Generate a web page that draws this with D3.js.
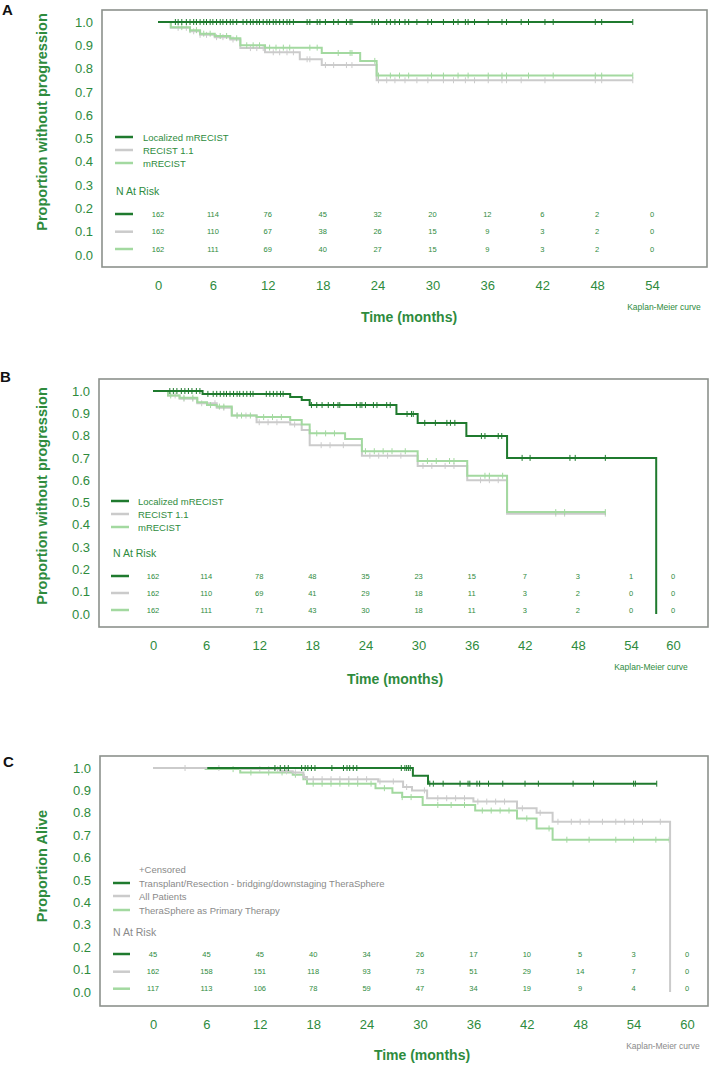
<!DOCTYPE html>
<html lang="en">
<head>
<meta charset="UTF-8">
<title>Kaplan-Meier curves</title>
<script src="https://d3js.org/d3.v7.min.js"></script>
<style>
  body { margin: 0; background: #fff; }
  svg { display: block; font-family: "Liberation Sans", Arial, sans-serif; }
</style>
</head>
<body>
<div class="main"></div>
<script>

  // ---- data ----
  const seriesNamesAB = ["Localized mRECIST", "RECIST 1.1", "mRECIST"];
  const seriesNamesC = ["Transplant/Resection - bridging/downstaging TheraSphere", "All Patients", "TheraSphere as Primary Therapy"];

  const ticksA = [0, 6, 12, 18, 24, 30, 36, 42, 48, 54];
  const ticksBC = [0, 6, 12, 18, 24, 30, 36, 42, 48, 54, 60];
  const yTicks = [0, 0.1, 0.2, 0.3, 0.4, 0.5, 0.6, 0.7, 0.8, 0.9, 1.0];

  // panel A
  const aLocT = [0, 51.9];
  const aLocS = [1.0, 1.0];
  const aRecT = [0, 1.4, 3.5, 4.6, 6.2, 7.9, 9.0, 11.7, 15.5, 17.9, 23.9, 51.9];
  const aRecS = [1.0, 0.975, 0.96, 0.945, 0.935, 0.925, 0.888, 0.87, 0.84, 0.815, 0.75, 0.75];
  const aMreT = [0, 1.4, 3.5, 4.6, 6.2, 7.9, 9.0, 11.7, 17.9, 22.1, 23.9, 51.9];
  const aMreS = [1.0, 0.978, 0.965, 0.95, 0.94, 0.93, 0.90, 0.89, 0.867, 0.833, 0.77, 0.77];
  const aLocCens = [1.9, 2.2, 2.6, 3.1, 3.5, 3.9, 4.2, 4.6, 5.0, 5.3, 5.7, 6.0, 6.4, 6.8, 7.1, 7.5, 7.9, 8.2, 8.6, 9.3, 9.7, 10.1, 10.4, 10.8, 11.1, 11.5, 11.9, 12.2, 12.6, 12.9, 13.3, 13.7, 14.1, 14.4, 14.8, 16.3, 16.6, 17.4, 17.7, 18.3, 19.2, 19.7, 20.6, 21.0, 21.2, 23.4, 23.7, 24.1, 25.0, 25.4, 25.9, 26.4, 27.0, 27.4, 28.3, 29.5, 29.9, 31.2, 32.3, 32.8, 33.6, 33.9, 34.6, 36.1, 37.6, 38.1, 39.7, 40.5, 42.3, 43.2, 47.8, 48.5, 51.9];
  const aRecCens = [2.2, 3.1, 3.9, 4.6, 5.3, 6.4, 7.1, 8.2, 10.1, 10.8, 11.5, 12.6, 13.3, 14.1, 14.8, 16.3, 16.6, 18.3, 19.2, 20.6, 21.2, 24.1, 25.0, 25.9, 27.0, 28.3, 29.5, 31.2, 32.3, 33.6, 34.6, 36.1, 37.6, 38.1, 39.7, 42.3, 47.8, 48.5, 51.9];
  const aMreCens = [2.6, 3.5, 4.2, 5.0, 5.7, 6.8, 7.5, 8.6, 9.7, 10.4, 11.1, 12.2, 12.9, 13.7, 14.4, 16.6, 17.4, 19.7, 21.0, 21.2, 23.7, 24.1, 25.4, 26.4, 27.4, 29.9, 31.2, 32.8, 33.9, 36.1, 37.6, 38.1, 40.5, 43.2, 47.8, 48.5, 51.9];
  const aRiskLoc = [162, 114, 76, 45, 32, 20, 12, 6, 2, 0];
  const aRiskRec = [162, 110, 67, 38, 26, 15, 9, 3, 2, 0];
  const aRiskMre = [162, 111, 69, 40, 27, 15, 9, 3, 2, 0];

  // panel B
  const bLocT = [0, 5.6, 15.5, 16.8, 17.7, 27.5, 29.9, 35.4, 40.0, 57.6];
  const bLocS = [1.0, 0.987, 0.973, 0.96, 0.937, 0.897, 0.857, 0.798, 0.70, 0];
  const bRecT = [0, 1.7, 3.0, 5.0, 7.2, 8.9, 11.7, 15.5, 16.8, 17.7, 23.6, 29.9, 35.5, 40.0, 51.1];
  const bRecS = [1.0, 0.98, 0.965, 0.945, 0.925, 0.89, 0.86, 0.85, 0.825, 0.757, 0.71, 0.664, 0.60, 0.45, 0.45];
  const bMreT = [0, 1.7, 3.0, 5.0, 6.1, 7.2, 8.9, 11.7, 15.5, 16.8, 17.7, 21.7, 23.6, 29.9, 35.5, 40.0, 51.1];
  const bMreS = [1.0, 0.98, 0.97, 0.95, 0.937, 0.93, 0.89, 0.883, 0.87, 0.85, 0.81, 0.785, 0.73, 0.686, 0.62, 0.457, 0.457];
  const bLocCens = [1.9, 2.3, 2.7, 3.2, 3.6, 4.0, 4.4, 4.9, 5.3, 6.2, 6.8, 7.2, 7.6, 8.0, 8.3, 8.7, 9.1, 9.5, 9.8, 10.2, 10.6, 11.0, 11.3, 12.8, 13.2, 13.6, 14.0, 14.4, 14.7, 17.9, 18.5, 19.1, 19.8, 20.4, 20.9, 21.1, 23.0, 23.4, 23.6, 24.0, 24.9, 25.3, 26.4, 26.8, 28.7, 29.2, 29.4, 30.7, 31.9, 33.2, 33.6, 34.1, 37.1, 37.5, 39.0, 39.4, 41.7, 42.6, 47.1, 47.7, 51.1];
  const bRecCens = [2.5, 3.5, 4.5, 5.5, 7.0, 8.0, 9.5, 10.5, 12.0, 13.0, 14.0, 16.0, 19.0, 20.0, 21.5, 24.5, 25.5, 26.5, 28.0, 30.5, 31.5, 33.0, 34.0, 37.0, 38.0, 39.0, 45.5, 46.5, 51.1];
  const bMreCens = [2.0, 3.5, 4.5, 6.5, 7.5, 8.0, 9.5, 10.0, 11.0, 12.5, 13.5, 14.5, 18.5, 19.5, 20.5, 24.0, 25.0, 26.0, 27.0, 28.5, 31.0, 32.0, 33.5, 34.0, 37.5, 38.0, 39.5, 45.5, 46.5, 51.1];
  const bRiskLoc = [162, 114, 78, 48, 35, 23, 15, 7, 3, 1, 0];
  const bRiskRec = [162, 110, 69, 41, 29, 18, 11, 3, 2, 0, 0];
  const bRiskMre = [162, 111, 71, 43, 30, 18, 11, 3, 2, 0, 0];

  // panel C
  const cTraT = [6.1, 29.2, 30.9, 56.6];
  const cTraS = [1.0, 0.965, 0.93, 0.93];
  const cAllT = [0, 9.8, 14.3, 15.7, 16.9, 17.3, 25.3, 28.1, 29.1, 30.8, 36.0, 40.9, 43.1, 44.9, 58.1];
  const cAllS = [1.0, 0.995, 0.985, 0.98, 0.96, 0.95, 0.94, 0.915, 0.90, 0.865, 0.85, 0.82, 0.80, 0.76, 0];
  const cTheT = [5.8, 9.8, 15.7, 16.9, 17.3, 25.0, 26.9, 28.0, 30.3, 36.2, 40.9, 43.1, 44.9, 58.1];
  const cTheS = [0.995, 0.98, 0.97, 0.95, 0.93, 0.91, 0.89, 0.87, 0.835, 0.81, 0.775, 0.73, 0.68, 0.68];
  const cTraCens = [13.7, 14.3, 14.8, 15.2, 16.7, 17.1, 17.4, 17.8, 18.2, 20.1, 21.4, 21.8, 22.1, 22.5, 22.9, 27.9, 28.3, 28.5, 28.7, 28.9, 31.1, 31.5, 32.6, 34.5, 35.4, 35.6, 36.4, 36.7, 37.7, 39.3, 41.8, 43.3, 47.2, 49.5, 54.0, 54.2, 56.6];
  const cAllCens = [3.6, 7.4, 12.0, 13.0, 14.0, 15.0, 16.0, 17.0, 18.0, 19.0, 20.0, 21.0, 22.0, 23.0, 24.0, 25.5, 27.0, 28.5, 30.5, 32.0, 33.0, 34.0, 35.0, 36.5, 37.5, 38.5, 39.5, 41.5, 43.5, 45.5, 47.0, 48.0, 49.0, 50.5, 52.0, 53.0, 54.0, 55.0, 57.0];
  const cTheCens = [9.0, 11.0, 13.0, 14.5, 16.0, 18.0, 19.0, 20.0, 21.0, 22.0, 23.0, 24.5, 26.0, 28.0, 29.0, 32.0, 33.5, 35.0, 37.0, 38.0, 39.0, 40.0, 42.0, 44.5, 46.5, 49.0, 52.0, 54.0, 56.5, 58.0];
  const cRiskTra = [45, 45, 45, 40, 34, 26, 17, 10, 5, 3, 0];
  const cRiskAll = [162, 158, 151, 118, 93, 73, 51, 29, 14, 7, 0];
  const cRiskThe = [117, 113, 106, 78, 59, 47, 34, 19, 9, 4, 0];

  // ---- styling ----
  const green = "#2e8b3d";
  const greyText = "#8a8a8a";
  const lineColors = ["#1f7a2e", "#cbcbcb", "#a3d9a0"];

  const width = 709, height = 1067;
  const svg = d3.select(".main").append("svg")
          .attr("width", width)
          .attr("height", height);

  const panels = [
    {
      label: "A", labelPos: [2, 15],
      box: [102, 10, 707, 267], yRange: [255, 22],
      xDomain: [0, 54], xRange: [158, 652], ticks: ticksA,
      yTitle: "Proportion without progression", yTitlePos: [42, 122],
      xTitlePos: [409, 322], kmPos: [664, 310], kmColor: green,
      series: [
        {t: aRecT, s: aRecS, c: aRecCens, col: lineColors[1]},
        {t: aMreT, s: aMreS, c: aMreCens, col: lineColors[2]},
        {t: aLocT, s: aLocS, c: aLocCens, col: lineColors[0]}
      ],
      names: seriesNamesAB, legendColor: green, censored: false,
      legX: [115, 133, 143], legY: [137, 150, 163],
      riskTitleY: 191, riskX: 116, riskY: [214, 231.7, 249],
      risk: [aRiskLoc, aRiskRec, aRiskMre]
    },
    {
      label: "B", labelPos: [0, 382],
      box: [99, 379, 708, 627], yRange: [614, 391],
      xDomain: [0, 54, 60], xRange: [153, 631, 673], ticks: ticksBC,
      yTitle: "Proportion without progression", yTitlePos: [42, 496],
      xTitlePos: [395, 684], kmPos: [651, 670], kmColor: green,
      series: [
        {t: bRecT, s: bRecS, c: bRecCens, col: lineColors[1]},
        {t: bMreT, s: bMreS, c: bMreCens, col: lineColors[2]},
        {t: bLocT, s: bLocS, c: bLocCens, col: lineColors[0]}
      ],
      names: seriesNamesAB, legendColor: green, censored: false,
      legX: [111, 129, 138], legY: [501, 514, 527],
      riskTitleY: 553, riskX: 113, riskY: [576, 593, 610],
      risk: [bRiskLoc, bRiskRec, bRiskMre]
    },
    {
      label: "C", labelPos: [3, 767],
      box: [100, 756, 708, 1006], yRange: [992, 768],
      xDomain: [0, 60], xRange: [153, 687], ticks: ticksBC,
      yTitle: "Proportion Alive", yTitlePos: [42, 866],
      xTitlePos: [422, 1060], kmPos: [663, 1049], kmColor: greyText,
      series: [
        {t: cTheT, s: cTheS, c: cTheCens, col: lineColors[2]},
        {t: cAllT, s: cAllS, c: cAllCens, col: lineColors[1]},
        {t: cTraT, s: cTraS, c: cTraCens, col: lineColors[0]}
      ],
      names: seriesNamesC, legendColor: greyText, censored: true,
      legX: [113, 130, 139], legY: [883, 896, 910],
      riskTitleY: 932, riskX: 113, riskY: [954, 971.7, 988.7],
      risk: [cRiskTra, cRiskAll, cRiskThe]
    }
  ];

  // step value of a KM curve at time t
  function survAt(T, S, t) {
    let v = S[0];
    for (let i = 0; i < T.length; i++) {
      if (T[i] <= t) v = S[i];
    }
    return v;
  }

  function drawPanel(p) {
    const g = svg.append("g");
    const xScale = d3.scaleLinear().domain(p.xDomain).range(p.xRange);
    const yScale = d3.scaleLinear().domain([0, 1]).range(p.yRange);

    // panel letter
    g.append("text").attr("x", p.labelPos[0]).attr("y", p.labelPos[1])
            .style("font-size", "15px").style("font-weight", "bold").style("fill", "#111")
            .text(p.label);

    // frame
    g.append("rect")
            .attr("x", p.box[0]).attr("y", p.box[1])
            .attr("width", p.box[2] - p.box[0]).attr("height", p.box[3] - p.box[1])
            .style("fill", "none").style("stroke", "#8c918c").style("stroke-width", 1.6);

    // y axis labels
    let yAxis = d3.axisLeft(yScale).tickValues(yTicks).tickSize(0).tickPadding(5)
            .tickFormat(d3.format(".1f"));
    let ya = g.append("g").attr("transform", `translate(${p.box[0] - 4},0)`).call(yAxis);
    ya.select(".domain").remove();
    ya.selectAll("text").style("font-size", "13px").style("fill", green)
            .style("font-family", "'Liberation Sans', Arial, sans-serif");

    // x axis labels
    let xAxis = d3.axisBottom(xScale).tickValues(p.ticks).tickSize(0).tickPadding(14)
            .tickFormat(d3.format("d"));
    let xa = g.append("g").attr("transform", `translate(0,${p.box[3]})`).call(xAxis);
    xa.select(".domain").remove();
    xa.selectAll("text").style("font-size", "13px").style("fill", green)
            .style("font-family", "'Liberation Sans', Arial, sans-serif");

    // titles
    g.append("text")
            .attr("transform", `translate(${p.yTitlePos[0]},${p.yTitlePos[1]}) rotate(-90)`)
            .attr("text-anchor", "middle").attr("dominant-baseline", "central")
            .style("font-size", "14.5px").style("font-weight", "bold").style("fill", green)
            .text(p.yTitle);
    g.append("text").attr("x", p.xTitlePos[0]).attr("y", p.xTitlePos[1])
            .attr("text-anchor", "middle")
            .style("font-size", "14px").style("font-weight", "bold").style("fill", green)
            .text("Time (months)");
    g.append("text").attr("x", p.kmPos[0]).attr("y", p.kmPos[1])
            .attr("text-anchor", "middle")
            .style("font-size", "8.5px").style("fill", p.kmColor)
            .text("Kaplan-Meier curve");

    // curves
    const line = d3.line()
            .x(d => xScale(d[0]))
            .y(d => yScale(d[1]))
            .curve(d3.curveStepAfter);

    p.series.forEach(function (sr) {
      let pts = sr.t.map((t, i) => [t, sr.s[i]]);
      g.append("path").datum(pts)
              .attr("d", line)
              .style("fill", "none").style("stroke", sr.col).style("stroke-width", 2);
      g.append("g").selectAll("line")
              .data(sr.c)
              .join("line")
              .attr("x1", d => xScale(d)).attr("x2", d => xScale(d))
              .attr("y1", d => yScale(survAt(sr.t, sr.s, d)) - 3)
              .attr("y2", d => yScale(survAt(sr.t, sr.s, d)) + 3)
              .style("stroke", sr.col).style("stroke-width", 1);
    });

    // legend
    if (p.censored) {
      g.append("text").attr("x", p.legX[2]).attr("y", p.legY[0] - 14)
              .attr("dominant-baseline", "central")
              .style("font-size", "9.5px").style("fill", greyText)
              .text("+Censored");
    }
    p.names.forEach(function (name, i) {
      g.append("line")
              .attr("x1", p.legX[0]).attr("x2", p.legX[1])
              .attr("y1", p.legY[i]).attr("y2", p.legY[i])
              .style("stroke", lineColors[i]).style("stroke-width", 2.5);
      g.append("text").attr("x", p.legX[2]).attr("y", p.legY[i])
              .attr("dominant-baseline", "central")
              .style("font-size", "9.5px").style("fill", p.legendColor)
              .text(name);
    });

    // number at risk table
    g.append("text").attr("x", p.riskX).attr("y", p.riskTitleY)
            .attr("dominant-baseline", "central")
            .style("font-size", "10.5px").style("fill", p.legendColor)
            .text("N At Risk");
    p.risk.forEach(function (row, i) {
      g.append("line")
              .attr("x1", p.legX[0]).attr("x2", p.legX[1])
              .attr("y1", p.riskY[i]).attr("y2", p.riskY[i])
              .style("stroke", lineColors[i]).style("stroke-width", 2.5);
      g.append("g").selectAll("text")
              .data(row)
              .join("text")
              .attr("x", (d, j) => xScale(p.ticks[j]))
              .attr("y", p.riskY[i])
              .attr("text-anchor", "middle").attr("dominant-baseline", "central")
              .style("font-size", "7.5px").style("fill", green)
              .text(d => d);
    });
  }

  panels.forEach(drawPanel);
</script>
</body>
</html>
